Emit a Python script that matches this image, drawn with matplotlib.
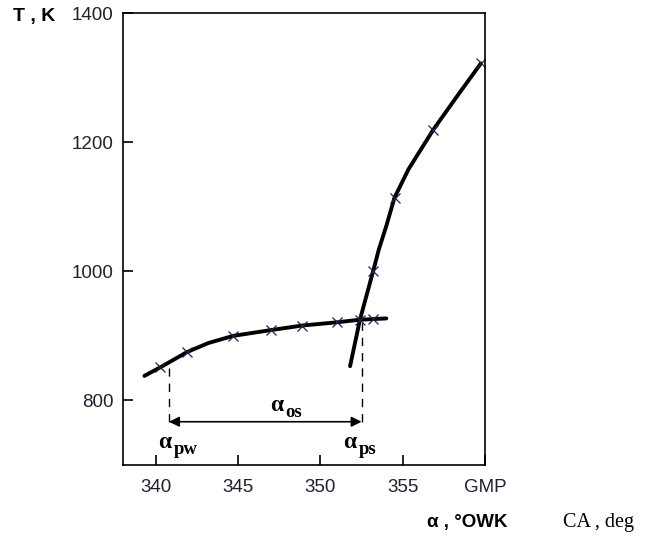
import matplotlib
matplotlib.use("Agg")
import matplotlib.pyplot as plt

# temperature vs crank angle, two regimes
flat_ca = [339.3, 340.25, 341.9, 343.2, 344.7, 347.0, 348.9, 351.0, 352.4, 353.2, 354.0]
flat_t = [838, 851, 875, 889, 900, 909, 916, 921, 925, 926, 927]
flat_mark_ca = [340.25, 341.9, 344.7, 347.0, 348.9, 351.0, 352.4, 353.2]
flat_mark_t = [851, 875, 900, 909, 916, 921, 925, 926]

steep_ca = [351.8, 352.4, 353.2, 353.55, 354.0, 354.5, 355.35, 356.85, 358.3, 359.75]
steep_t = [853, 925, 1000, 1034, 1070, 1114, 1158, 1219, 1271, 1322]
steep_mark_ca = [353.2, 354.5, 356.85, 359.75]
steep_mark_t = [1000, 1114, 1219, 1322]

alpha_pw = 340.8
alpha_ps = 352.5
arrow_t = 767

xticks = [340, 345, 350, 355, 360]
xticklabels = ['340', '345', '350', '355', 'GMP']
yticks = [800, 1000, 1200, 1400]

fig = plt.figure(figsize=(6.61, 5.39), dpi=100)
ax = fig.add_axes([123 / 661, 1 - 465 / 539, 362 / 661, 452 / 539])

ax.plot(flat_ca, flat_t, color='black', lw=2.8, solid_capstyle='round',
        solid_joinstyle='round')
ax.plot(steep_ca, steep_t, color='black', lw=2.8, solid_capstyle='round',
        solid_joinstyle='round')
ax.plot(flat_mark_ca + steep_mark_ca, flat_mark_t + steep_mark_t, 'x',
        color='#22224a', ms=7, mew=0.9)

# dashed guides and the double arrow between them
ax.plot([alpha_pw, alpha_pw], [arrow_t, 850], color='black', lw=1.0, dashes=(6, 5))
ax.plot([alpha_ps, alpha_ps], [arrow_t, 920], color='black', lw=1.0, dashes=(6, 5))
ax.annotate('', xy=(alpha_pw, arrow_t), xytext=(alpha_ps, arrow_t),
            arrowprops=dict(arrowstyle='<|-|>', color='black', lw=1.2,
                            mutation_scale=15, shrinkA=0, shrinkB=0))

def alpha_label(x, y, sub):
    ax.text(x, y, '\u03b1', family='Liberation Serif', fontweight='bold',
            fontsize=17, ha='right', va='baseline')
    ax.annotate(sub, xy=(x, y), xytext=(1.5, -4), textcoords='offset points',
                family='Liberation Serif', fontweight='bold', fontsize=13.5,
                ha='left', va='baseline')

alpha_label(347.75, 783, 'os')
alpha_label(340.95, 726, 'pw')
alpha_label(352.2, 726, 'ps')

ax.set_xlim(338, 360)
ax.set_ylim(700, 1400)
ax.set_xticks(xticks)
ax.set_xticklabels(xticklabels)
ax.set_yticks(yticks)
for s in ax.spines.values():
    s.set_linewidth(1.2)
ax.tick_params(direction='in', length=7, width=1.2, labelsize=13.5,
               pad=7, colors='black', labelcolor='#202030')
for lab in ax.get_xticklabels() + ax.get_yticklabels():
    lab.set_family('Liberation Sans')
ax.tick_params(axis='x', pad=10)

fig.text(13 / 661, 1 - 17 / 539, 'T , K', fontsize=14, fontweight='bold',
         family='Liberation Sans', ha='left', va='center')
fig.text(507 / 661, 1 - 523 / 539, '\u03b1 , \u00b0OWK', fontsize=13.5,
         fontweight='bold', family='Liberation Sans', ha='right', va='center')
fig.text(563 / 661, 1 - 522 / 539, 'CA , deg', fontsize=14.5,
         family='Liberation Serif', ha='left', va='center')

fig.savefig('out.png', dpi=100, facecolor='white')
